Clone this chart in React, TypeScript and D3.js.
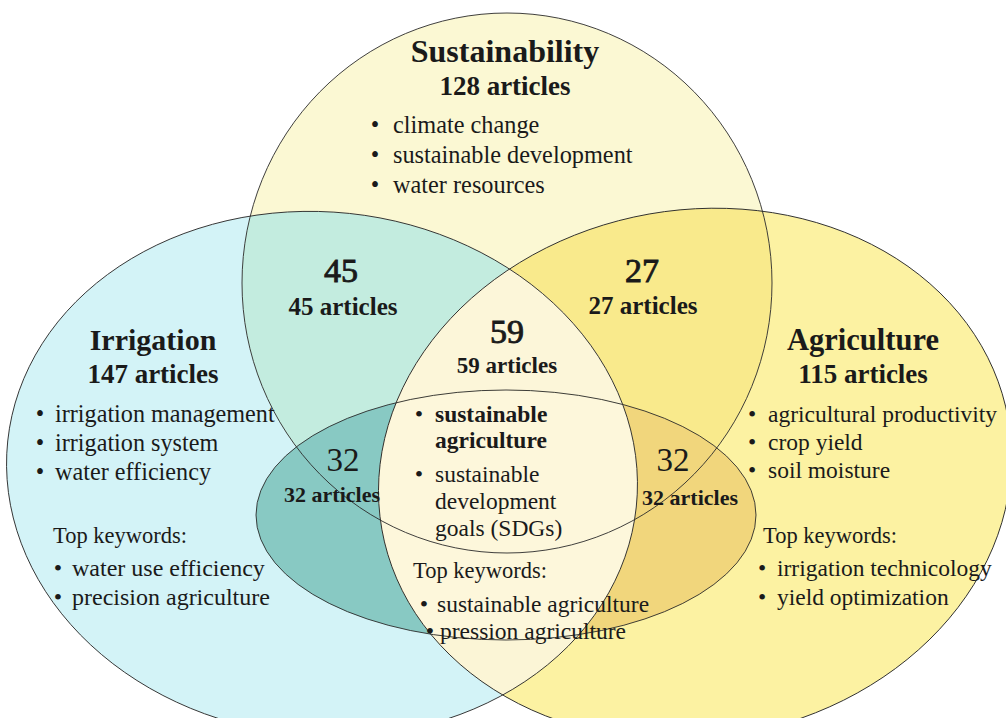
import React from "react";
import * as d3 from "d3";

const W = 1006;
const H = 718;

// ---- data ----
const setNames = ["Sustainability", "Irrigation", "Agriculture"];
const setCounts = [128, 147, 115];
const susKeywords = ["climate change", "sustainable development", "water resources"];
const irrKeywords = ["irrigation management", "irrigation system", "water efficiency"];
const agrKeywords = ["agricultural productivity", "crop yield", "soil moisture"];
const irrTopKeywords = ["water use efficiency", "precision agriculture"];
const agrTopKeywords = ["irrigation technicology", "yield optimization"];
const overlapNames = ["sus-irr", "sus-agr", "all", "core-irr", "core-agr"];
const overlapCounts = [45, 27, 59, 32, 32];
const coreKeywords = [
  ["sustainable", "agriculture"],
  ["sustainable", "development", "goals (SDGs)"],
];
const coreTopKeywords = ["sustainable agriculture", "pression agriculture"];

// ---- layout (px) ----
const shapes = {
  sus: { cx: 507, cy: 283, rx: 265, ry: 270, rot: 0 },
  irr: { cx: 322, cy: 474, rx: 316, ry: 262, rot: 6 },
  agr: { cx: 695, cy: 474, rx: 318, ry: 264, rot: -10 },
  core: { cx: 506, cy: 515, rx: 250, ry: 125, rot: 0 },
};

const regionFill = d3
  .scaleOrdinal<string, string>()
  .domain(["irr", "agr", "sus", "sus-irr", "sus-agr", "irr-agr", "all", "core-irr", "core-agr", "core-all"])
  .range(["#d3f3f7", "#fcf2a2", "#fbf8d3", "#c3ecdf", "#f9ea8c", "#fbf5d6", "#fcf6d9", "#88c9c3", "#f1d67c", "#fdf7db"]);

const FONT = "'Liberation Serif', 'Times New Roman', serif";
const TXT = "#1a1a1a";

const Ell = ({ s, ...rest }: any) => (
  <ellipse cx={s.cx} cy={s.cy} rx={s.rx} ry={s.ry} transform={`rotate(${s.rot} ${s.cx} ${s.cy})`} {...rest} />
);

const Bullets = ({ items, bx, tx, y, step, size, weight = "normal" }: any) => (
  <g>
    {items.map((t: string, i: number) => (
      <g key={i}>
        <text x={bx} y={y + i * step} textAnchor="middle" fontSize={size}>•</text>
        <text x={tx} y={y + i * step} fontSize={size} fontWeight={weight}>{t}</text>
      </g>
    ))}
  </g>
);

// number label + "n articles" label per overlap
const overlapPos: Record<string, any> = {
  "sus-irr": { x: 341, y: 282, lx: 343, ly: 315, thick: true, ns: 34, ls: 25 },
  "sus-agr": { x: 642, y: 282, lx: 643, ly: 314, thick: true, ns: 34, ls: 25 },
  all: { x: 507, y: 343, lx: 507, ly: 373, thick: true, ns: 34, ls: 23 },
  "core-irr": { x: 343, y: 471, lx: 332, ly: 502, thick: false, ns: 33, ls: 22 },
  "core-agr": { x: 673, y: 471, lx: 690, ly: 505, thick: false, ns: 33, ls: 22 },
};

export default function App() {
  const stroke = "#2a2a2a";
  return (
    <svg
      width={W}
      height={H}
      viewBox={`0 0 ${W} ${H}`}
      style={{ position: "absolute", left: 0, top: 0, background: "#fff", display: "block" }}
      fontFamily={FONT}
      fill={TXT}
    >
      <defs>
        {Object.entries(shapes).map(([k, s]) => (
          <clipPath id={`c-${k}`} key={k}>
            <Ell s={s} />
          </clipPath>
        ))}
      </defs>

      {/* base sets */}
      <Ell s={shapes.irr} fill={regionFill("irr")} />
      <Ell s={shapes.agr} fill={regionFill("agr")} />
      <Ell s={shapes.sus} fill={regionFill("sus")} />
      {/* pairwise */}
      <g clipPath="url(#c-irr)"><Ell s={shapes.sus} fill={regionFill("sus-irr")} /></g>
      <g clipPath="url(#c-agr)"><Ell s={shapes.sus} fill={regionFill("sus-agr")} /></g>
      <g clipPath="url(#c-irr)"><Ell s={shapes.agr} fill={regionFill("irr-agr")} /></g>
      <g clipPath="url(#c-irr)"><g clipPath="url(#c-agr)"><Ell s={shapes.sus} fill={regionFill("all")} /></g></g>
      {/* inner core */}
      <g clipPath="url(#c-irr)"><Ell s={shapes.core} fill={regionFill("core-irr")} /></g>
      <g clipPath="url(#c-agr)"><Ell s={shapes.core} fill={regionFill("core-agr")} /></g>
      <g clipPath="url(#c-irr)"><g clipPath="url(#c-agr)"><Ell s={shapes.core} fill={regionFill("core-all")} /></g></g>

      {/* outlines */}
      {Object.entries(shapes).map(([k, s]) => (
        <Ell key={k} s={s} fill="none" stroke={stroke} strokeWidth={0.9} />
      ))}

      {/* Sustainability */}
      <text x={505} y={62} textAnchor="middle" fontSize={32} fontWeight="bold">{setNames[0]}</text>
      <text x={505} y={95} textAnchor="middle" fontSize={27} fontWeight="bold">{setCounts[0]} articles</text>
      <Bullets items={susKeywords} bx={375} tx={393} y={133} step={30} size={24.3} />

      {/* Irrigation */}
      <text x={153} y={350} textAnchor="middle" fontSize={30} fontWeight="bold">{setNames[1]}</text>
      <text x={153} y={383} textAnchor="middle" fontSize={27} fontWeight="bold">{setCounts[1]} articles</text>
      <Bullets items={irrKeywords} bx={40} tx={55} y={422} step={29} size={24.2} />
      <text x={53} y={543} fontSize={22.5}>Top keywords:</text>
      <Bullets items={irrTopKeywords} bx={58} tx={72} y={576} step={29} size={24} />

      {/* Agriculture */}
      <text x={863} y={350} textAnchor="middle" fontSize={30.5} fontWeight="bold">{setNames[2]}</text>
      <text x={863} y={383} textAnchor="middle" fontSize={27} fontWeight="bold">{setCounts[2]} articles</text>
      <Bullets items={agrKeywords} bx={752} tx={768} y={422} step={28} size={23.5} />
      <text x={763} y={543} fontSize={22.5}>Top keywords:</text>
      <Bullets items={agrTopKeywords} bx={762} tx={777} y={576} step={29} size={23.5} />

      {/* overlaps */}
      {overlapNames.map((k, i) => {
        const p = overlapPos[k];
        return (
          <g key={k}>
            <text
              x={p.x}
              y={p.y}
              textAnchor="middle"
              fontSize={p.ns}
              stroke={p.thick ? TXT : "none"}
              strokeWidth={p.thick ? 0.9 : 0}
            >
              {overlapCounts[i]}
            </text>
            <text x={p.lx} y={p.ly} textAnchor="middle" fontSize={p.ls} fontWeight="bold">{overlapCounts[i]} articles</text>
          </g>
        );
      })}

      {/* core keywords */}
      <g>
        <text x={419} y={422} textAnchor="middle" fontSize={24}>•</text>
        {coreKeywords[0].map((t, i) => (
          <text key={"a" + i} x={435} y={422 + i * 26} fontSize={23.5} fontWeight="bold">{t}</text>
        ))}
        <text x={419} y={482} textAnchor="middle" fontSize={24}>•</text>
        {coreKeywords[1].map((t, i) => (
          <text key={"b" + i} x={435} y={482 + i * 27} fontSize={23.5}>{t}</text>
        ))}
      </g>
      <text x={413} y={578} fontSize={22.5}>Top keywords:</text>
      <text x={424} y={612} textAnchor="middle" fontSize={24}>•</text>
      <text x={437} y={612} fontSize={23.5}>{coreTopKeywords[0]}</text>
      <text x={430} y={639} textAnchor="middle" fontSize={24}>•</text>
      <text x={440} y={639} fontSize={23.5}>{coreTopKeywords[1]}</text>
    </svg>
  );
}
